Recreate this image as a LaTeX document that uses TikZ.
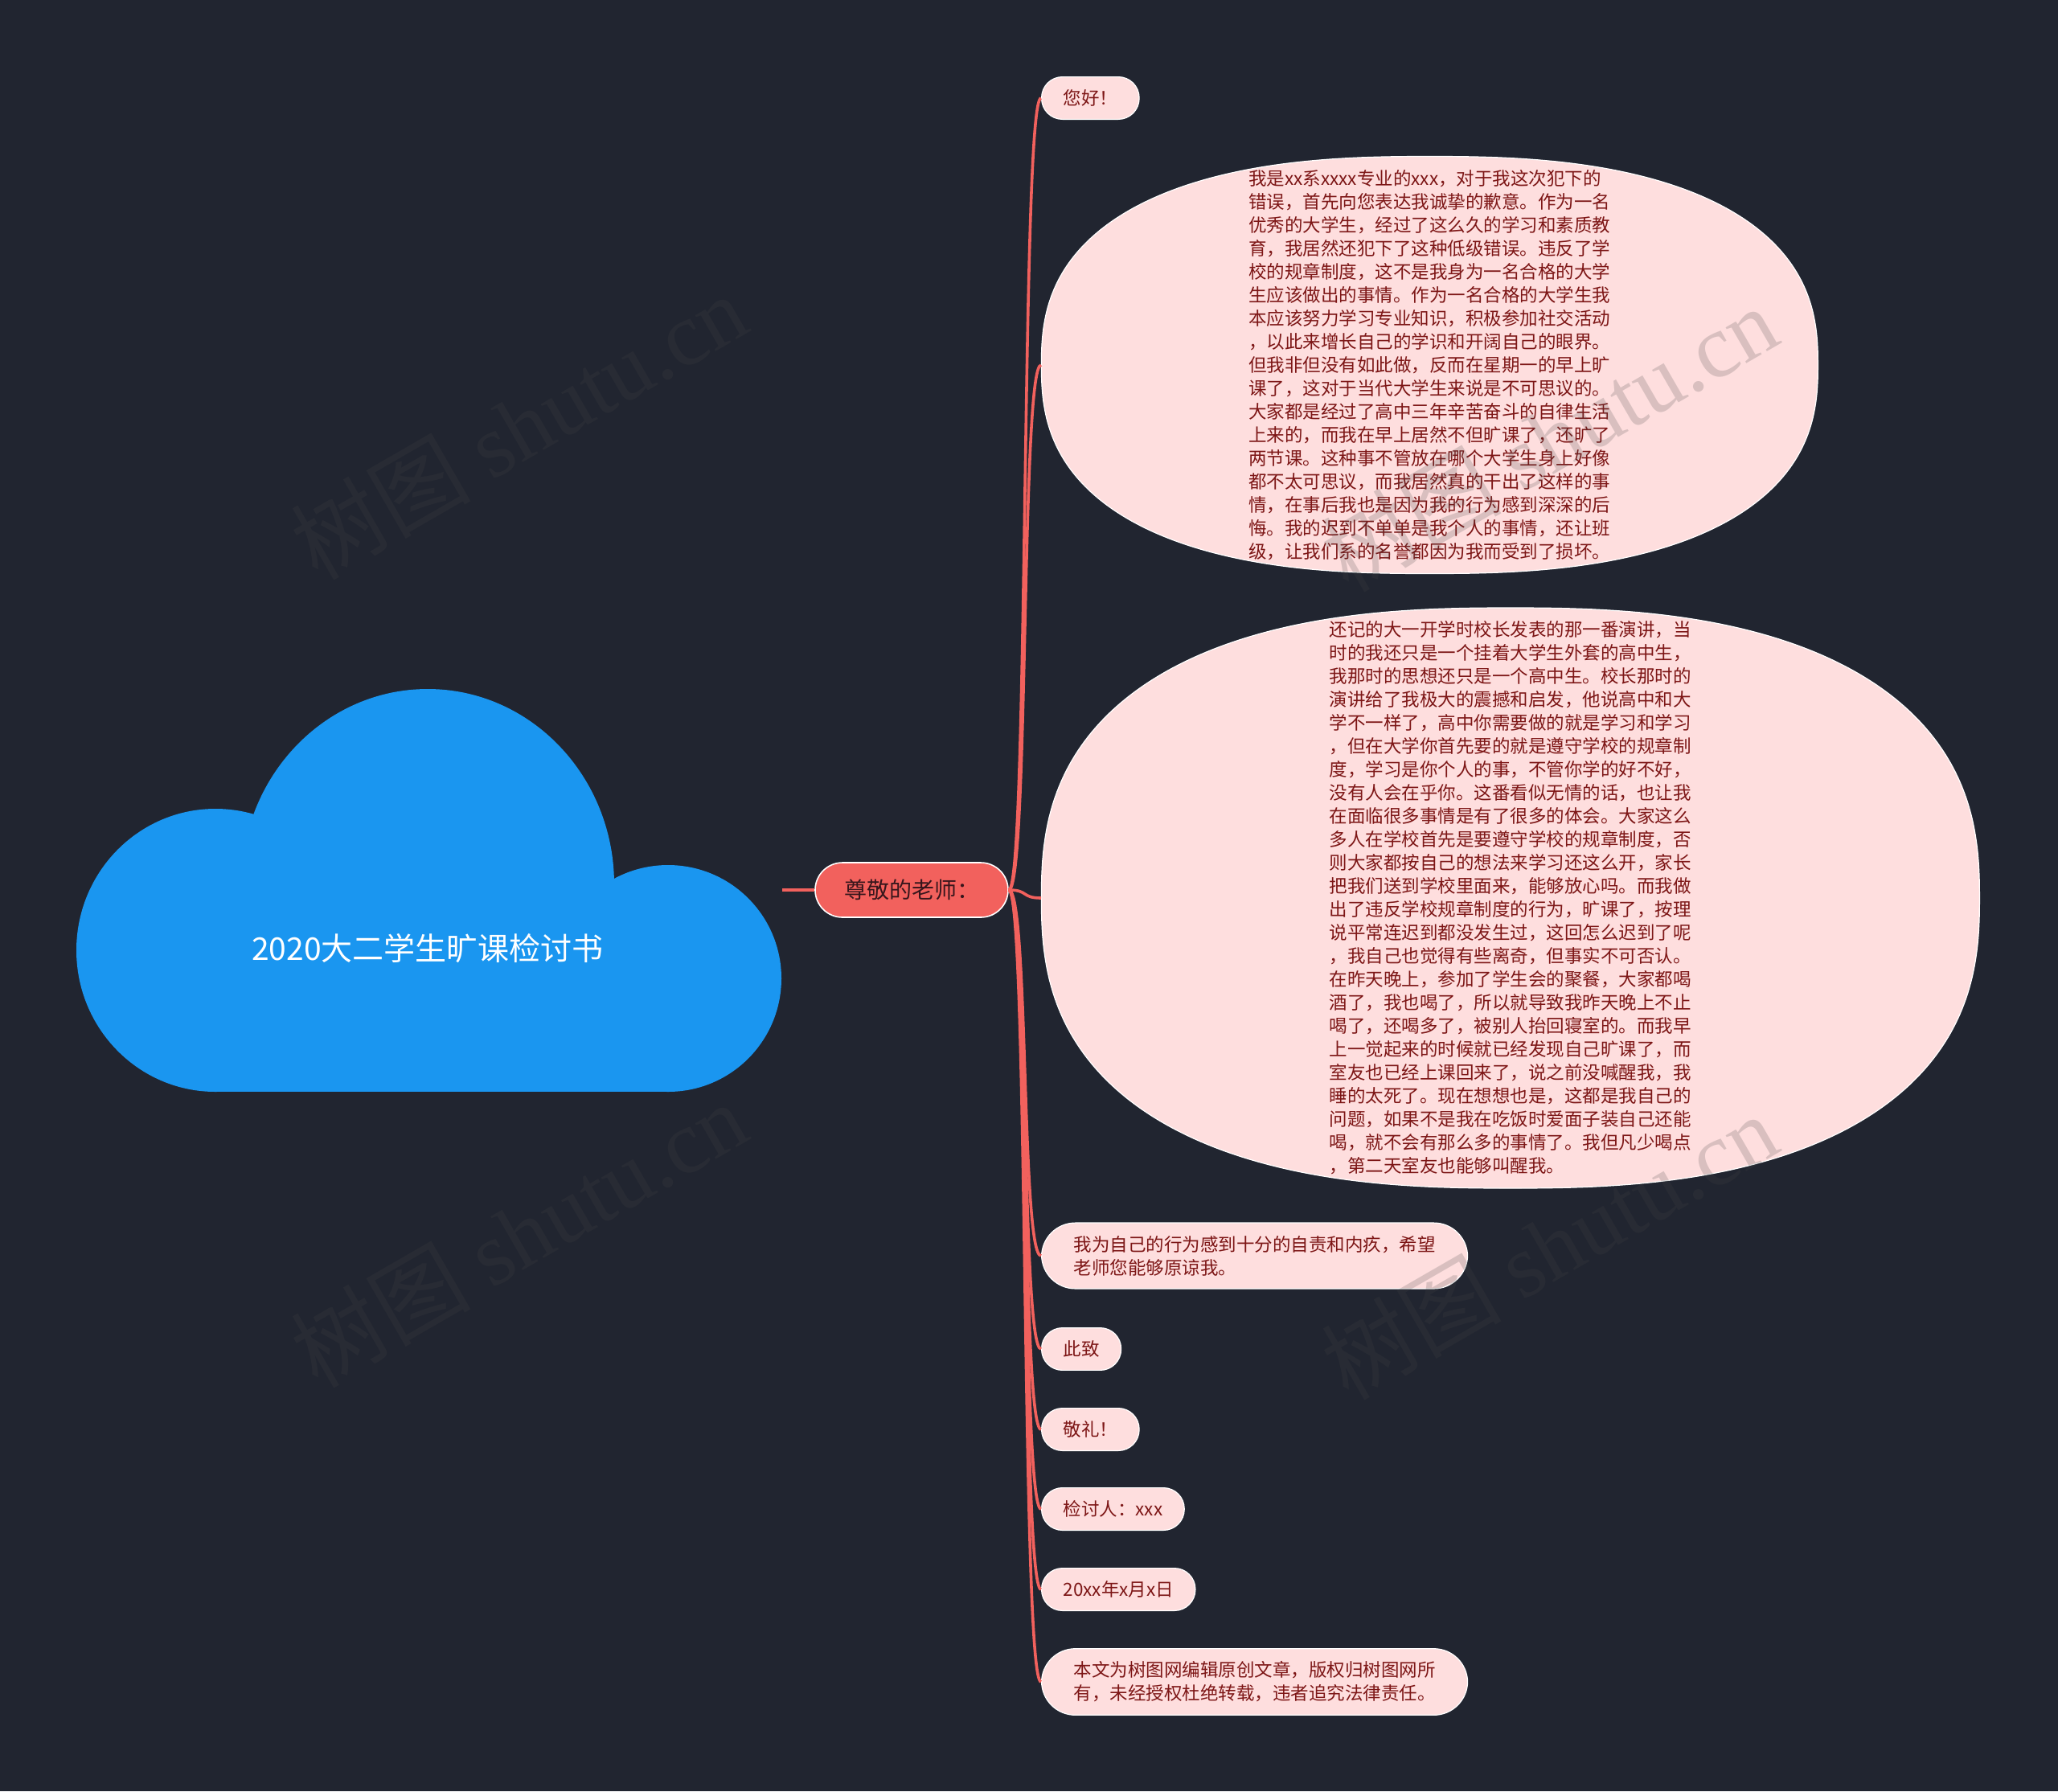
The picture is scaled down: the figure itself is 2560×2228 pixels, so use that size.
\documentclass[tikz,border=0pt]{standalone}
\usepackage{fontspec}
\newfontfamily\cjk{Noto Sans CJK SC}
\newfontfamily\wmserif{Liberation Serif}
\usetikzlibrary{shapes.geometric}
\definecolor{bgnavy}{RGB}{33,37,48}
\definecolor{cloudblue}{RGB}{26,150,240}
\definecolor{salmon}{RGB}{242,97,93}
\definecolor{leafpink}{RGB}{254,222,222}
\definecolor{leaftext}{RGB}{125,22,22}
\definecolor{roottext}{RGB}{55,22,28}
\definecolor{wmgray}{RGB}{70,70,70}

\begin{document}
\begin{tikzpicture}[x=0.5pt,y=-0.5pt, leaf/.style={draw=white,line width=0.6pt,fill=leafpink,text=leaftext,rounded corners=13pt,inner xsep=13.5pt,inner ysep=8pt,minimum height=26pt,anchor=west,align=left,font=\cjk\fontsize{11.25}{14.5}\selectfont}, wideleaf/.style={leaf,rounded corners=21pt,inner xsep=20pt}, bubble/.style={ellipse,inner sep=0pt,anchor=west}, bubbleline/.style={draw=white,line width=0.6pt,fill=leafpink}, bodytext/.style={text=leaftext,align=left,inner sep=0pt,font=\cjk\fontsize{11.25}{14.5}\selectfont}, rootbox/.style={draw=white,line width=0.8pt,fill=salmon,text=roottext,rounded corners=17pt,inner xsep=18pt,minimum height=34pt,font=\cjk\fontsize{14}{16}\selectfont}, branch/.style={draw=salmon,line width=1.8pt}, watermark/.style={rotate=30,text=wmgray,text opacity=0.2,font=\cjk\fontsize{56}{60}\selectfont}]
  \fill[bgnavy] (0,0) rectangle (2560,2228);
  \fill[cloudblue] (268,1182) ellipse [x radius=173, y radius=176];
  \fill[cloudblue] (532,1100) ellipse [x radius=232, y radius=243];
  \fill[cloudblue] (831,1217) circle [radius=141];
  \fill[cloudblue] (268,1100) rectangle (831,1358);
  \node[text=white,font=\cjk\fontsize{19.5}{24}\selectfont] (title) at (532,1180) {2020大二学生旷课检讨书};
  \coordinate (cloudr) at (973,1107);
  \node[rootbox] (teacher) at (1134,1107) {尊敬的老师：};
  \node[leaf] (hello) at (1295,122) {您好！};
  \node[bubble,minimum width=483pt,minimum height=259.5pt] (letter) at (1295,454) {};
  \draw[bubbleline,shift={(letter.center)}] plot[domain=0.5:359.5,samples=360] ({483*cos(\x)*abs(cos(\x))^(-0.2)},{259.5*sin(\x)*abs(sin(\x))^(-0.2)}) -- cycle;
  \node[bodytext] (lettertext) at (letter.center) {我是xx系xxxx专业的xxx，对于我这次犯下的\\错误，首先向您表达我诚挚的歉意。作为一名\\优秀的大学生，经过了这么久的学习和素质教\\育，我居然还犯下了这种低级错误。违反了学\\校的规章制度，这不是我身为一名合格的大学\\生应该做出的事情。作为一名合格的大学生我\\本应该努力学习专业知识，积极参加社交活动\\，以此来增长自己的学识和开阔自己的眼界。\\但我非但没有如此做，反而在星期一的早上旷\\课了，这对于当代大学生来说是不可思议的。\\大家都是经过了高中三年辛苦奋斗的自律生活\\上来的，而我在早上居然不但旷课了，还旷了\\两节课。这种事不管放在哪个大学生身上好像\\都不太可思议，而我居然真的干出了这样的事\\情，在事后我也是因为我的行为感到深深的后\\悔。我的迟到不单单是我个人的事情，还让班\\级，让我们系的名誉都因为我而受到了损坏。};
  \node[bubble,minimum width=583.5pt,minimum height=361pt] (speech) at (1295,1117) {};
  \draw[bubbleline,shift={(speech.center)}] plot[domain=0.5:359.5,samples=360] ({583.5*cos(\x)*abs(cos(\x))^(-0.2)},{361*sin(\x)*abs(sin(\x))^(-0.2)}) -- cycle;
  \node[bodytext] (speechtext) at (speech.center) {还记的大一开学时校长发表的那一番演讲，当\\时的我还只是一个挂着大学生外套的高中生，\\我那时的思想还只是一个高中生。校长那时的\\演讲给了我极大的震撼和启发，他说高中和大\\学不一样了，高中你需要做的就是学习和学习\\，但在大学你首先要的就是遵守学校的规章制\\度，学习是你个人的事，不管你学的好不好，\\没有人会在乎你。这番看似无情的话，也让我\\在面临很多事情是有了很多的体会。大家这么\\多人在学校首先是要遵守学校的规章制度，否\\则大家都按自己的想法来学习还这么开，家长\\把我们送到学校里面来，能够放心吗。而我做\\出了违反学校规章制度的行为，旷课了，按理\\说平常连迟到都没发生过，这回怎么迟到了呢\\，我自己也觉得有些离奇，但事实不可否认。\\在昨天晚上，参加了学生会的聚餐，大家都喝\\酒了，我也喝了，所以就导致我昨天晚上不止\\喝了，还喝多了，被别人抬回寝室的。而我早\\上一觉起来的时候就已经发现自己旷课了，而\\室友也已经上课回来了，说之前没喊醒我，我\\睡的太死了。现在想想也是，这都是我自己的\\问题，如果不是我在吃饭时爱面子装自己还能\\喝，就不会有那么多的事情了。我但凡少喝点\\，第二天室友也能够叫醒我。};
  \node[wideleaf] (sorry) at (1295,1562) {我为自己的行为感到十分的自责和内疚，希望\\老师您能够原谅我。};
  \node[leaf] (cizhi) at (1295,1678) {此致};
  \node[leaf] (jingli) at (1295,1778) {敬礼！};
  \node[leaf] (signer) at (1295,1877) {检讨人：xxx};
  \node[leaf] (date) at (1295,1977) {20xx年x月x日};
  \node[wideleaf] (notice) at (1295,2092) {本文为树图网编辑原创文章，版权归树图网所\\有，未经授权杜绝转载，违者追究法律责任。};
  \draw[branch] (cloudr) -- (teacher.west);
  \foreach \n in {hello,letter,speech,sorry,cizhi,jingli,signer,date,notice}
    \draw[branch] (teacher.east) .. controls +(25,0) and +(-25,0) .. (\n.west);
  \foreach \wx/\wy [count=\i] in {645/530,645/1535,1927/545,1927/1550}
    \node[watermark] (wm\i) at (\wx,\wy) {树图 {\wmserif shutu.cn}};
\end{tikzpicture}
\end{document}
